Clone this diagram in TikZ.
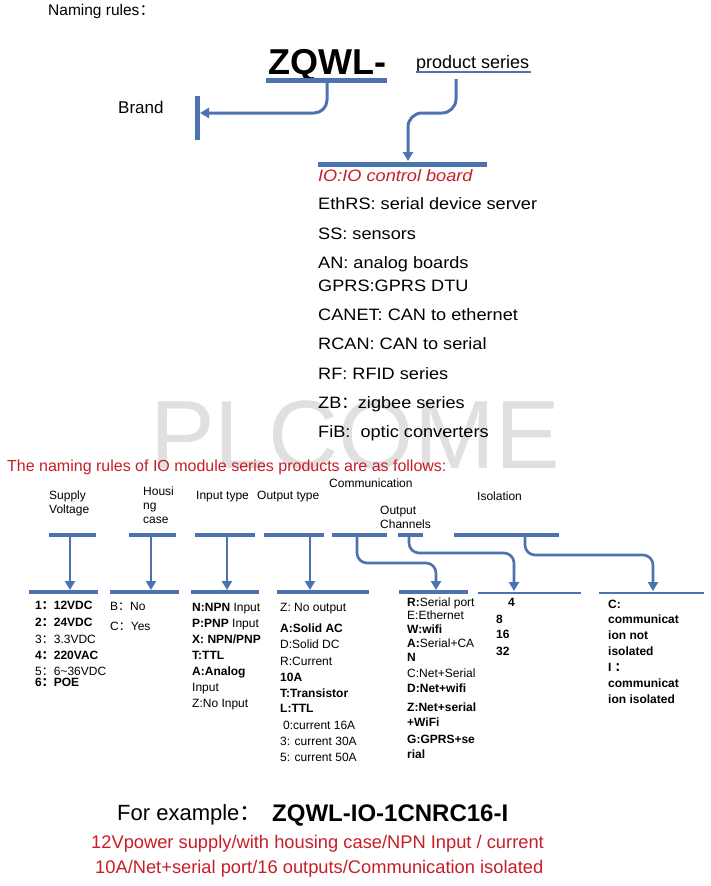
\documentclass[tikz,border=0pt]{standalone}
\usepackage{fontspec}
\setmainfont{Liberation Sans}
\newfontfamily\cjk{Noto Sans CJK SC}
\newfontfamily\wsans[FakeStretch=1.1]{Liberation Sans}
\usetikzlibrary{arrows.meta}
\definecolor{lb}{RGB}{76,114,176}
\definecolor{rd}{RGB}{200,30,40}
\definecolor{wm}{RGB}{224,224,224}
\newcommand\fwc{{\cjk ：}}
\tikzset{
 tx/.style={inner sep=0pt, anchor=base west},
 lab/.style={tx, font=\fontsize{12}{14}\selectfont},
 col/.style={tx, font=\fontsize{12}{14}\selectfont},
 colb/.style={tx, font=\fontsize{12}{14}\selectfont\bfseries},
 lst/.style={tx, font=\wsans\fontsize{16.5}{19}\selectfont},
 bar/.style={draw=lb, line width=4.5pt},
 thinbar/.style={draw=lb, line width=1.3pt},
 conn/.style={draw=lb, line width=2.6pt, -{Triangle[width=10pt,length=9pt]}, rounded corners=10pt},
}
\begin{document}
\begin{tikzpicture}[x=1pt,y=-1pt]
\path[use as bounding box, fill=white] (0,0) rectangle (711,886);
% watermark
\node[tx, font=\fontsize{97}{100}\selectfont, text=wm] (wmark) at (150,468) {PLCOME};

% title
\node[tx, font=\fontsize{15.5}{18}\selectfont] (title) at (48,16) {Naming rules\fwc};
\node[tx, font=\fontsize{36}{40}\selectfont\bfseries] (zqwl) at (268,74) {ZQWL-};
\node[tx, font=\fontsize{18}{20}\selectfont] (ps) at (416,68) {product series};
\draw[lb, line width=1.8pt] (416,72) -- (531,72);
\node[tx, font=\fontsize{17}{20}\selectfont] (brand) at (118,113) {Brand};

\draw[bar, line width=5pt] (266,80) -- (387,80);
\draw[lb, line width=5pt] (197,96) -- (197,140);
\coordinate (zq) at (327,82);
\coordinate (brandtip) at (200,113);
\draw[conn, line width=3pt, rounded corners=13pt] (zq) |- (brandtip);

\draw[bar, line width=5pt] (318,164) -- (487,164);
\coordinate (psa) at (456,79);
\coordinate (psmid) at (408,113);
\coordinate (iotip) at (408,161);
\draw[conn, line width=3pt, rounded corners=14pt] (psa) |- (psmid) -- (iotip);

% list
\node[lst, font=\wsans\fontsize{16.5}{19}\selectfont\itshape, text=rd] (l0) at (318,181) {IO:IO control board};
\node[lst] (l1) at (318,209) {EthRS: serial device server};
\node[lst] (l2) at (318,239) {SS: sensors};
\node[lst] (l3) at (318,268) {AN: analog boards};
\node[lst] (l4) at (318,291) {GPRS:GPRS DTU};
\node[lst] (l5) at (318,320) {CANET: CAN to ethernet};
\node[lst] (l6) at (318,349) {RCAN: CAN to serial};
\node[lst] (l7) at (318,379) {RF: RFID series};
\node[lst] (l8) at (318,408) {ZB\fwc zigbee series};
\node[lst] (l9) at (318,437) {FiB:\ \ optic converters};

% header
\node[tx, font=\fontsize{16}{18}\selectfont, text=rd] (hdr) at (7,471) {The naming rules of IO module series products are as follows:};

% column labels
\node[lab] (h1a) at (49,499) {Supply};
\node[lab] (h1b) at (49,513) {Voltage};
\node[lab] (h2a) at (143,495) {Housi};
\node[lab] (h2b) at (143,509) {ng};
\node[lab] (h2c) at (143,523) {case};
\node[lab] (h3) at (196,499) {Input type};
\node[lab] (h4) at (257,499) {Output type};
\node[lab] (h5) at (329,487) {Communication};
\node[lab] (h6a) at (380,514) {Output};
\node[lab] (h6b) at (380,528) {Channels};
\node[lab] (h7) at (477,500) {Isolation};

% upper bars
\draw[bar] (49,535) -- (96,535);
\draw[bar] (129,535) -- (176,535);
\draw[bar] (195,535) -- (255,535);
\draw[bar] (264,535) -- (324,535);
\draw[bar] (332,535) -- (387,535);
\draw[bar] (398,535) -- (423,535);
\draw[bar] (454,535) -- (559,535);
% lower bars
\draw[bar] (29,592) -- (98,592);
\draw[bar] (110,592) -- (179,592);
\draw[bar] (191,592) -- (259,592);
\draw[bar] (277,592) -- (369,592);
\draw[bar] (399,592) -- (468,592);
\draw[thinbar] (478,593) -- (581,593);
\draw[thinbar] (599,593) -- (704,593);

% connector end points
\coordinate (a1) at (70,537);  \coordinate (b1) at (70,590);
\coordinate (a2) at (151,537); \coordinate (b2) at (151,590);
\coordinate (a3) at (227,537); \coordinate (b3) at (227,590);
\coordinate (a4) at (310,537); \coordinate (b4) at (310,590);
\coordinate (a5) at (357,537); \coordinate (m5) at (436,563); \coordinate (b5) at (436,590);
\coordinate (a6) at (409,537); \coordinate (m6) at (514,553); \coordinate (b6) at (514,591);
\coordinate (a7) at (525,537); \coordinate (m7) at (653,555); \coordinate (b7) at (653,591);
\draw[conn] (a1) -- (b1);
\draw[conn] (a2) -- (b2);
\draw[conn] (a3) -- (b3);
\draw[conn] (a4) -- (b4);
\draw[conn] (a5) |- (m5) -- (b5);
\draw[conn] (a6) |- (m6) -- (b6);
\draw[conn] (a7) |- (m7) -- (b7);

% supply voltage
\node[colb] (s1) at (35,609) {1\fwc12VDC};
\node[colb] (s2) at (35,626) {2\fwc24VDC};
\node[col] (s3) at (35,643) {3\fwc3.3VDC};
\node[colb] (s4) at (35,659) {4\fwc220VAC};
\node[col] (s5) at (35,675) {5\fwc6\textasciitilde36VDC};
\node[colb] (s6) at (35,686) {6\fwc POE};
% housing
\node[col] (c1) at (110,610) {B\fwc No};
\node[col] (c2) at (110,630) {C\fwc Yes};
% input
\node[col] (i1) at (192,611) {\textbf{N:NPN} Input};
\node[col] (i2) at (192,627) {\textbf{P:PNP} Input};
\node[colb] (i3) at (192,643) {X: NPN/PNP};
\node[colb] (i4) at (192,659) {T:TTL};
\node[colb] (i5) at (192,675) {A:Analog};
\node[col] (i6) at (192,691) {Input};
\node[col] (i7) at (192,707) {Z:No Input};
% output
\node[col] (o1) at (280,611) {Z: No output};
\node[colb] (o2) at (280,632) {A:Solid AC};
\node[col] (o3) at (280,648) {D:Solid DC};
\node[col] (o4) at (280,665) {R:Current};
\node[colb] (o5) at (280,681) {10A};
\node[colb] (o6) at (280,697) {T:Transistor};
\node[colb] (o7) at (280,712) {L:TTL};
\node[col] (o8) at (283,729) {0:current 16A};
\node[col] (o9) at (280,745) {3: current 30A};
\node[col] (o10) at (280,761) {5: current 50A};
% communication
\node[col] (m1) at (407,606) {\textbf{R:}Serial port};
\node[col] (m2) at (407,619) {E:Ethernet};
\node[colb] (m3) at (407,633) {W:wifi};
\node[col] (mm4) at (407,647) {\textbf{A:}Serial+CA};
\node[colb] (mm5) at (407,661) {N};
\node[col] (mm6) at (407,677) {C:Net+Serial};
\node[colb] (mm7) at (407,692) {D:Net+wifi};
\node[colb] (mm8) at (407,711) {Z:Net+serial};
\node[colb] (mm9) at (407,726) {+WiFi};
\node[colb] (mm10) at (407,743) {G:GPRS+se};
\node[colb] (mm11) at (407,758) {rial};
% channels
\node[colb] (n1) at (508,606) {4};
\node[colb] (n2) at (496,623) {8};
\node[colb] (n3) at (496,638) {16};
\node[colb] (n4) at (496,655) {32};
% isolation
\node[colb] (q1) at (608,608) {C:};
\node[colb] (q2) at (608,623) {communicat};
\node[colb] (q3) at (608,639) {ion not};
\node[colb] (q4) at (608,655) {isolated};
\node[colb] (q5) at (608,671) {I \fwc};
\node[colb] (q6) at (608,687) {communicat};
\node[colb] (q7) at (608,703) {ion isolated};

% example
\node[tx, font=\fontsize{22}{24}\selectfont] (ex1) at (117,820) {For example\fwc};
\node[tx, font=\fontsize{24}{26}\selectfont\bfseries] (ex2) at (272,821) {ZQWL-IO-1CNRC16-I};
\node[tx, font=\fontsize{18.3}{20}\selectfont, text=rd] (ex3) at (91,848) {12Vpower supply/with housing case/NPN Input / current};
\node[tx, font=\fontsize{18.3}{20}\selectfont, text=rd] (ex4) at (95,873) {10A/Net+serial port/16 outputs/Communication isolated};
\end{tikzpicture}
\end{document}
